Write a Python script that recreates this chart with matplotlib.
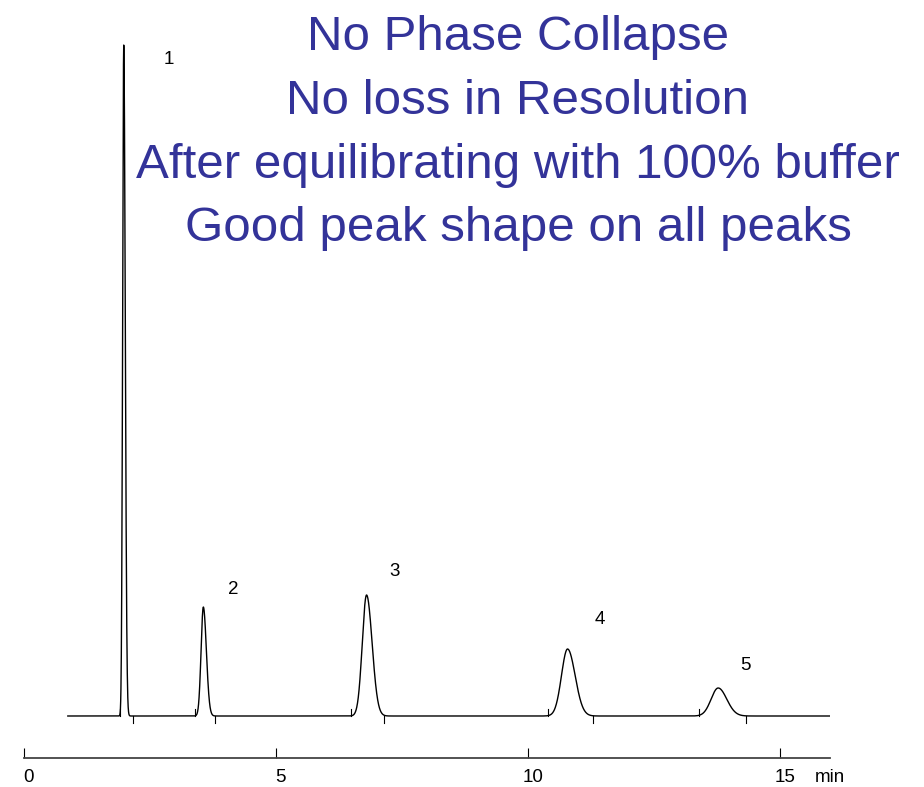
import numpy as np
import matplotlib
matplotlib.use('Agg')
import matplotlib.pyplot as plt

# Peak table: retention time (min), height (signal units), width (min)
peak_ids = ["1", "2", "3", "4", "5"]
retention = [1.98, 3.56, 6.80, 10.79, 13.78]
heights = [671, 109, 121, 67, 28]
sigma_front = [0.022, 0.045, 0.085, 0.12, 0.14]
sigma_tail = [0.030, 0.060, 0.110, 0.15, 0.17]
# integration marks (start, end) in min
peak_start = [1.90, 3.40, 6.50, 10.40, 13.40]
peak_end = [2.16, 3.80, 7.15, 11.29, 14.33]

ticks = [0, 5, 10, 15]
run_start, run_end = 0.87, 16.0

TITLE = ["No Phase Collapse",
         "No loss in Resolution",
         "After equilibrating with 100% buffer",
         "Good peak shape on all peaks"]
BLUE = '#333399'
FONT = ['Liberation Sans', 'DejaVu Sans']

W, H = 924, 787
fig = plt.figure(figsize=(W / 100, H / 100), dpi=100)

t = np.linspace(run_start, run_end, 6000)
signal = np.zeros_like(t)
for rt, h, sf, st in zip(retention, heights, sigma_front, sigma_tail):
    s = np.where(t < rt, sf, st)
    signal += h * np.exp(-0.5 * ((t - rt) / s) ** 2)

# chromatogram axes: baseline at 716 px from top
ax = fig.add_axes([24 / W, 61 / H, 806 / W, 686 / H])
ax.plot(t, signal, color='black', lw=1.0)
for s0, s1 in zip(peak_start, peak_end):
    ax.plot([s0, s0], [0, 7], color='black', lw=0.8)
    ax.plot([s1, s1], [0, -7], color='black', lw=0.8)
ax.set_xlim(0, 16)
ax.set_ylim(-10, 676)
ax.axis('off')

label_offsets = [(0.90, 0), (0.60, 18), (0.55, 24), (0.65, 30), (0.55, 23)]
for pid, rt, h, (dx, dy) in zip(peak_ids, retention, heights, label_offsets):
    y = h - 14 if pid == "1" else h + dy
    ax.text(rt + dx, y, pid, fontsize=13.5, family=FONT, ha='center', va='center')

# time axis
axt = fig.add_axes([24 / W, 29 / H, 806 / W, 0.0001])
axt.set_xlim(0, 16)
axt.set_yticks([])
for side in ['top', 'left', 'right']:
    axt.spines[side].set_visible(False)
axt.spines['bottom'].set_linewidth(1.3)
axt.spines['bottom'].set_color('#444444')
axt.set_xticks(ticks)
axt.tick_params(axis='x', direction='in', length=7, width=0.8, labelbottom=False)
for v in ticks:
    axt.annotate(str(v), (v, 0), xytext=(5, -19), textcoords='offset pixels',
                 family=FONT, fontsize=13.5, ha='center', va='center')
fig.text(815 / W, 1 - 777 / H, "min", family=FONT, fontsize=13.5, ha='left', va='center')

for i, line in enumerate(TITLE):
    fig.text(518 / W, 1 - (50 + 63.8 * i) / H, line, family=FONT, fontsize=35.5,
             color=BLUE, ha='center', va='baseline')

fig.savefig('out.png', dpi=100)
